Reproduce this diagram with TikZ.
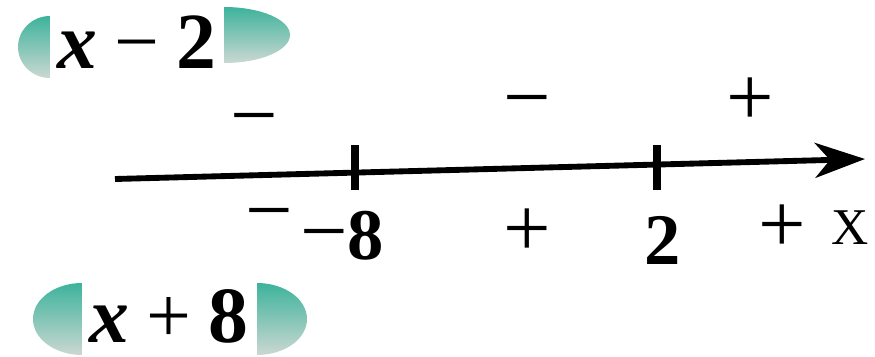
\documentclass[tikz,border=0pt]{standalone}
\usepackage{fontspec}
\setmainfont{Liberation Serif}
\usepackage{xcolor}
\usepackage{tikz}
\usetikzlibrary{arrows.meta}
\definecolor{BadgeTeal}{HTML}{3DB39C}
\definecolor{BadgeFade}{HTML}{CBD8D2}

\begin{document}
\begin{tikzpicture}[x=0.03cm, y=-0.03cm, every node/.style={inner sep=0pt, outer sep=0pt}]

    \tikzstyle{sign}=[font=\fontsize{72}{72}\selectfont]
    \tikzstyle{num}=[font=\fontsize{62}{62}\selectfont]
    \tikzstyle{factor}=[font=\fontsize{68}{68}\selectfont]
    \tikzstyle{badge}=[top color=BadgeTeal, bottom color=BadgeFade]

    \useasboundingbox (0,0) rectangle (875,356);

    % --- Badges behind the factors ---
    \shade[badge] (50,16) arc[start angle=90, end angle=270, x radius=0.96cm, y radius=0.93cm] -- cycle;
    \shade[badge] (224,7) arc[start angle=90, end angle=-90, x radius=1.98cm, y radius=0.84cm] -- cycle;
    \shade[badge] (82,283) arc[start angle=90, end angle=270, x radius=1.47cm, y radius=1.08cm] -- cycle;
    \shade[badge] (257,283) arc[start angle=90, end angle=-90, x radius=1.5cm, y radius=1.08cm] -- cycle;

    % --- Factors ---
    \node[factor] (xminus) at (137,42) {\textbf{\textit{x}}\hspace{0.22em}−\hspace{0.22em}\textbf{2}};
    \node[factor] (xplus) at (169,316) {\textbf{\textit{x}}\hspace{0.22em}+\hspace{0.22em}\textbf{8}};

    % --- Number line ---
    \coordinate (lineL) at (115,179);
    \coordinate (lineR) at (865,159);
    \coordinate (tickA) at (355,145);
    \coordinate (tickAend) at (355,190);
    \coordinate (tickB) at (657,145);
    \coordinate (tickBend) at (657,190);
    \draw[line width=5pt, -{Stealth[length=1.5cm, width=1.05cm, inset=0.45cm]}] (lineL) -- (lineR);
    \draw[line width=6pt] (tickA) -- (tickAend);
    \draw[line width=6pt] (tickB) -- (tickBend);

    % --- Signs of x-2 ---
    \node[sign] (topL) at (254,128) {−};
    \node[sign] (topM) at (527,110) {−};
    \node[sign] (topR) at (750,102) {+};

    % --- Roots and signs of x+8 ---
    \node[sign] (botL) at (269,223) {−};
    \node[num] (rootA) at (342,236) {{\fontsize{72}{72}\selectfont −}\textbf{8}};
    \node[sign] (botM) at (527,233) {+};
    \node[num] (rootB) at (663,240) {\textbf{2}};
    \node[sign] (botR) at (782,229) {+};
    \node[font=\fontsize{44}{44}\selectfont] (axisx) at (850,228) {X};

  \end{tikzpicture}
\end{document}
